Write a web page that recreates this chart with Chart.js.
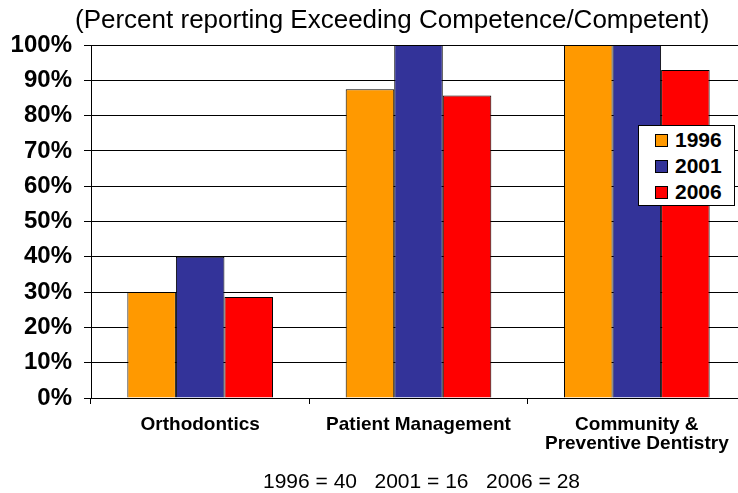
<!DOCTYPE html>
<html>
<head>
<meta charset="utf-8">
<script src="https://cdn.jsdelivr.net/npm/chart.js@4"></script>
<style>
  html,body{margin:0;padding:0;background:#fff;overflow:hidden;width:738px;height:493px}
  #wrap{position:relative;width:738px;height:493px;overflow:hidden;font-family:"Liberation Sans",Arial,sans-serif}
  #box{position:absolute;left:0;top:0;width:746px;height:493px}
  #title{position:absolute;left:75px;top:4px;font-size:26px;line-height:30px;white-space:nowrap;color:#000}
  #note{position:absolute;left:263px;top:469px;font-size:21px;line-height:24px;white-space:pre;color:#000}
  #legend{position:absolute;left:638px;top:125px;width:95px;height:78px;border:1px solid #000;background:#fff;padding-top:1px}
  #legend .row{height:26px;display:flex;align-items:center;font-weight:bold;font-size:21px}
  #legend .sw{width:11px;height:11px;border:1px solid #000;margin-left:16px;margin-right:7px}
</style>
</head>
<body>
<div id="wrap">
  <div id="box"><canvas id="c"></canvas></div>
  <div id="title"></div>
  <div id="legend"></div>
  <div id="note"></div>
</div>
<script>
const titleText = "(Percent reporting Exceeding Competence/Competent)";
const categories = ["Orthodontics", "Patient Management", ["Community &", "Preventive Dentistry"]];
const years = ["1996", "2001", "2006"];
const v1996 = [30, 87.5, 100];
const v2001 = [40, 100, 100];
const v2006 = [28.6, 85.7, 92.9];
const sampleSizes = [40, 16, 28];
const yTicks = [0, 10, 20, 30, 40, 50, 60, 70, 80, 90, 100];
const colors = ["#FF9900", "#333399", "#FF0000"];

const series = [v1996, v2001, v2006];
document.getElementById("title").textContent = titleText;
document.getElementById("note").textContent = years.map((y,i)=>`${y} = ${sampleSizes[i]}`).join("   ");
document.getElementById("legend").innerHTML = years.map((y,i)=>
  `<div class="row"><span class="sw" style="background:${colors[i]}"></span>${y}</div>`).join("");

const font = "'Liberation Sans', Arial, sans-serif";
new Chart(document.getElementById("c"), {
  type: "bar",
  data: {
    labels: categories,
    datasets: series.map((d,i)=>({label: years[i], data: d, backgroundColor: colors[i],
      borderColor: "#000", borderWidth: 1, categoryPercentage: 0.667, barPercentage: 1}))
  },
  options: {
    responsive: true, maintainAspectRatio: false, animation: false,
    layout: {padding: {top: 45, right: 0, bottom: 0, left: 0}},
    plugins: {legend: {display: false}, title: {display: false}, tooltip: {enabled: false}},
    scales: {
      x: {
        afterFit: s => { s.height = 95; },
        grid: {drawOnChartArea: false, color: "#000", tickLength: 6, offset: true},
        border: {color: "#000"},
        ticks: {color: "#000", padding: 11, maxRotation: 0, autoSkip: false,
          font: {family: font, size: 19, weight: "bold", lineHeight: 1.0}}
      },
      y: {
        min: 0, max: 100,
        afterFit: s => { s.width = 91; },
        afterBuildTicks: s => { s.ticks = yTicks.map(v=>({value: v})); },
        grid: {color: "#000", tickLength: 7},
        border: {color: "#000"},
        ticks: {color: "#000", padding: 12, callback: v => v + "%",
          font: {family: font, size: 24, weight: "bold"}}
      }
    }
  }
});
</script>
</body>
</html>
